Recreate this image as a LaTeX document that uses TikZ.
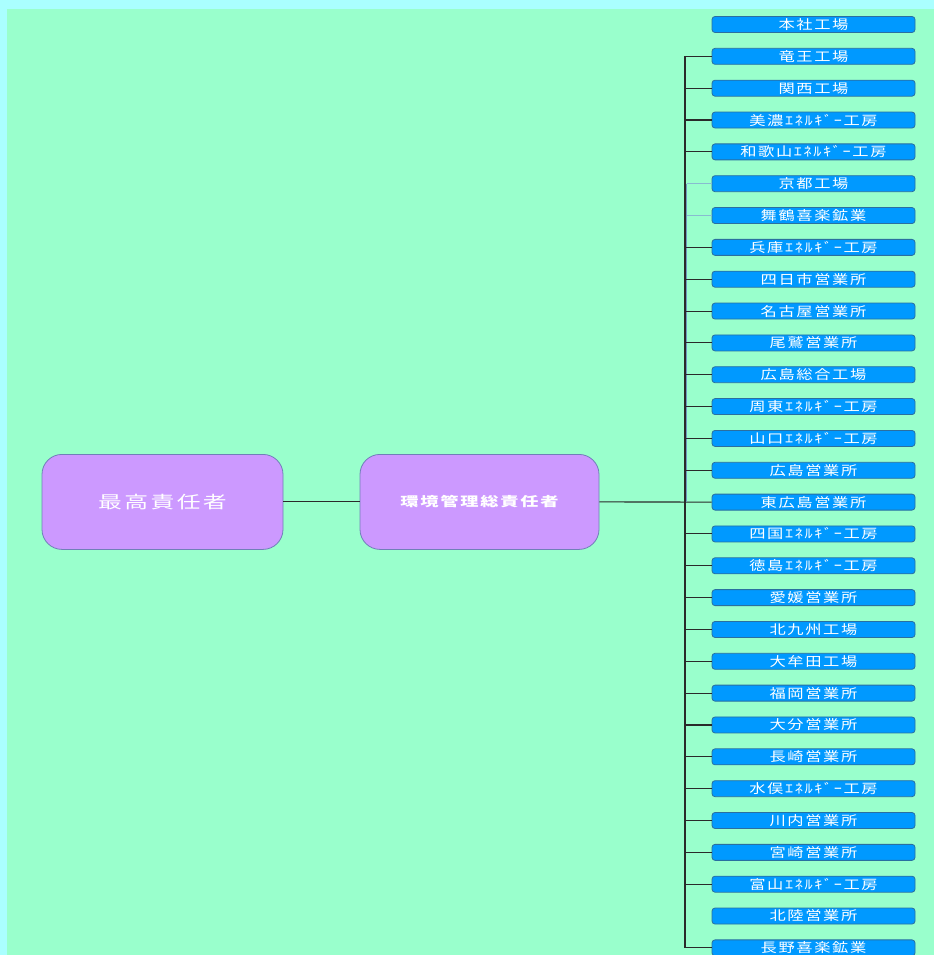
\documentclass[tikz,border=0pt]{standalone}
\usepackage{fontspec}
\usepackage{graphicx}
\newfontfamily\jp[LetterSpace=10]{Noto Sans CJK JP}
\definecolor{outerbg}{HTML}{AAFFFF}
\definecolor{greenbg}{HTML}{99FFCC}
\definecolor{purp}{HTML}{CC99FF}
\definecolor{purpline}{HTML}{7080B8}
\definecolor{bluefill}{HTML}{0099FF}
\definecolor{blueline}{HTML}{2A6FA0}
\definecolor{lblue}{HTML}{88BBD0}
\definecolor{steel}{HTML}{6F9BC0}
\definecolor{conn}{HTML}{2A2A2A}
\newcommand{\sxs}[1]{\scalebox{1.25}[1]{#1}}
\newcommand{\sxl}[1]{\scalebox{1.4}[1]{#1}}
\tikzset{
  rbox/.style={draw=blueline, fill=bluefill, rounded corners=3pt, line width=0.8pt,
    minimum width=203pt, minimum height=16pt, inner sep=0pt, text=white,
    font=\jp\fontsize{13}{13}\selectfont},
  bigbox/.style={draw=purpline, fill=purp, rounded corners=20pt, line width=0.8pt,
    minimum width=241pt, minimum height=95pt, inner sep=0pt, text=white},
  link/.style={draw=conn, line width=1.1pt},
  linkb/.style={draw=lblue, line width=1.1pt}
}
\begin{document}
\begin{tikzpicture}[x=1pt,y=-1pt]
\useasboundingbox (0,0) rectangle (934,955);
\fill[outerbg] (0,0) rectangle (934,955);
\fill[greenbg] (7,9) rectangle (934,955);

\foreach \t [count=\i from 0] in {本社工場,竜王工場,関西工場,美濃ｴﾈﾙｷﾞｰ工房,和歌山ｴﾈﾙｷﾞｰ工房,京都工場,舞鶴喜楽鉱業,兵庫ｴﾈﾙｷﾞｰ工房,四日市営業所,名古屋営業所,尾鷲営業所,広島総合工場,周東ｴﾈﾙｷﾞｰ工房,山口ｴﾈﾙｷﾞｰ工房,広島営業所,東広島営業所,四国ｴﾈﾙｷﾞｰ工房,徳島ｴﾈﾙｷﾞｰ工房,愛媛営業所,北九州工場,大牟田工場,福岡営業所,大分営業所,長崎営業所,水俣ｴﾈﾙｷﾞｰ工房,川内営業所,宮崎営業所,富山ｴﾈﾙｷﾞｰ工房,北陸営業所,長野喜楽鉱業} {
  \pgfmathsetmacro\yy{24.5+31.84*\i}
  \node[rbox] (r\i) at (813.5,\yy) {\sxs{\t}};
}

\node[bigbox] (top) at (162.5,501.9) {\sxl{\jp\fontsize{17}{17}\selectfont 最高責任者}};
\node[bigbox, minimum width=239pt] (mgr) at (479.5,501.9) {\sxl{\jp\bfseries\fontsize{13}{13}\selectfont 環境管理総責任者}};

\coordinate (trunk) at (685,0);
\coordinate (steelx) at (686.5,0);

% main links
\draw[link] (top.east) -- (mgr.west);
\draw[link] (mgr.east) -- (r15.west);

% trunk
\draw[link] (trunk |- r1.west) -- (trunk |- r29.west);
\draw[draw=steel, line width=1.8pt] (steelx |- r5.west) -- (steelx |- r15.west);

% branches
\foreach \i in {1,2,3,4,7,8,9,10,11,12,13,14,16,17,18,19,20,21,22,23,24,25,26,27,29} {
  \draw[link] (trunk |- r\i.west) -- (r\i.west);
}
\foreach \i in {5,6} {
  \draw[linkb] (steelx |- r\i.west) -- (r\i.west);
}
\end{tikzpicture}
\end{document}
